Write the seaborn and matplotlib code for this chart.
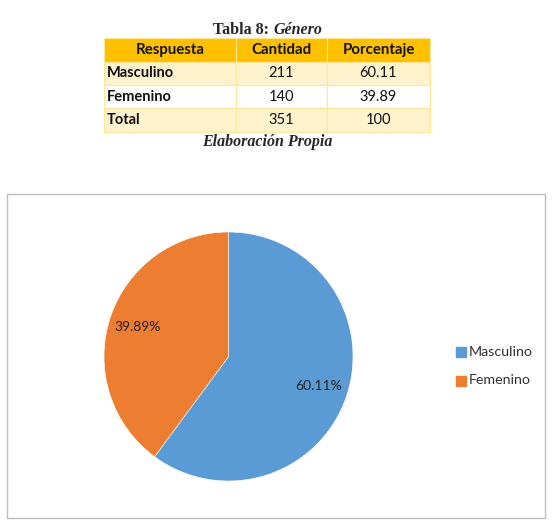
import matplotlib
matplotlib.use("Agg")
import matplotlib.pyplot as plt
import seaborn as sns
from matplotlib.patches import Rectangle

# Data
categories = ["Masculino", "Femenino"]
counts = [211, 140]
percents = [60.11, 39.89]
total_count = 351
total_pct = 100
col_headers = ["Respuesta", "Cantidad", "Porcentaje"]

sns.set_theme(style="white")
plt.rcParams['font.family'] = ['Lato', 'DejaVu Sans']

W, H = 555, 530
fig = plt.figure(figsize=(W / 100, H / 100), dpi=100)
fig.patch.set_facecolor("white")

def fx(x):
    return x / W

def fy(y):
    return 1 - y / H

# Title
fig.text(fx(273), fy(30), "Tabla 8: ", ha="right", va="center", fontsize=11.5,
         fontweight="bold", family="Liberation Serif")
fig.text(fx(273), fy(30), "Género", ha="left", va="center", fontsize=11.5,
         fontweight="bold", fontstyle="italic", family="Liberation Serif")

# Table
tax = fig.add_axes([fx(104), fy(132), fx(430 - 104), (132 - 38) / H])
tax.axis("off")
rows = [[c, str(n), f"{p:.2f}"] for c, n, p in zip(categories, counts, percents)]
rows.append(["Total", str(total_count), str(total_pct)])
cell_text = [col_headers] + rows
tbl = tax.table(cellText=cell_text, bbox=[0, 0, 1, 1], cellLoc="center")
tbl.auto_set_font_size(False)
col_w = [(236 - 104), (327 - 236), (430 - 327)]
tot = sum(col_w)
fills = ["#FFC000", "#FFF2CC", "#FFFFFF", "#FFF2CC"]
for (r, c), cell in tbl.get_celld().items():
    cell.set_width(col_w[c] / tot)
    cell.set_facecolor(fills[r])
    cell.set_edgecolor("#FFE699")
    cell.set_linewidth(0.8)
    txt = cell.get_text()
    txt.set_fontsize(10.8 if r == 0 else 10.5)
    txt.set_color("#111111")
    if r == 0 or c == 0:
        txt.set_fontweight("bold")
    if c == 0 and r > 0:
        cell.set_text_props(ha="left")
        cell.PAD = 0.02

fig.text(fx(267), fy(142), "Elaboración Propia", ha="center", va="center",
         fontsize=11.5, fontweight="bold", fontstyle="italic", family="Liberation Serif")

# Chart border
fig.patches.append(Rectangle((fx(7), fy(518)), fx(545 - 7), (518 - 194) / H,
                             transform=fig.transFigure, fill=False,
                             edgecolor="#BFBFBF", linewidth=1.0))

# Pie
cx, cy, r = 228.5, 356.5, 124.5
pax = fig.add_axes([fx(cx - r), fy(cy + r), fx(2 * r), 2 * r / H])
colors = ["#5B9BD5", "#ED7D31"]
wedges, texts, autotexts = pax.pie(
    percents, colors=colors, startangle=90, counterclock=False,
    autopct="%.2f%%", pctdistance=0.765, radius=1,
    wedgeprops=dict(linewidth=0.4, edgecolor="white"),
    textprops=dict(fontsize=10, color="#222222"))
pax.set_xlim(-1, 1)
pax.set_ylim(-1, 1)
pax.set_aspect("equal")
pax.axis("off")

# Legend
for i, (cat, col) in enumerate(zip(categories, colors)):
    y = 352 + i * 28.5
    fig.patches.append(Rectangle((fx(456), fy(y + 5)), fx(10), 10 / H,
                                 transform=fig.transFigure, color=col))
    fig.text(fx(469), fy(y), cat, ha="left", va="center", fontsize=10.3,
             color="#333333")

fig.savefig("out.png", dpi=100, facecolor="white")
